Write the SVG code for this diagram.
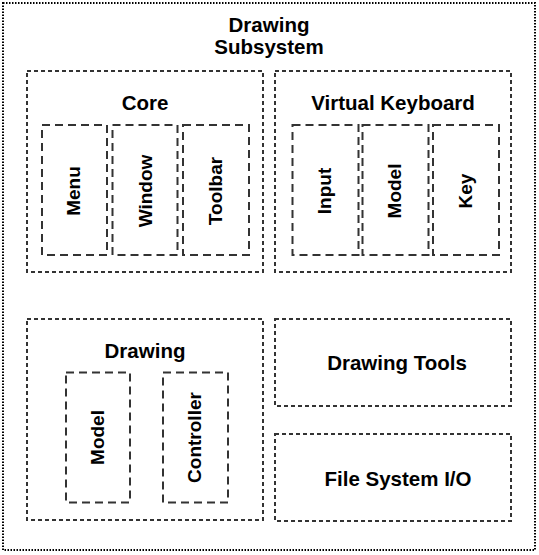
<svg xmlns="http://www.w3.org/2000/svg" width="539" height="555" viewBox="0 0 539 555">
<style>
.outer{fill:#fff;stroke:#000;stroke-width:2;stroke-dasharray:1.5 1.5}
.mid{fill:#fff;stroke:#333;stroke-width:2;stroke-dasharray:4 3}
.inner{fill:#fff;stroke:#333;stroke-width:2;stroke-dasharray:8 5}
text{font-family:"Liberation Sans",Arial,sans-serif;font-weight:bold;fill:#000;text-anchor:middle;dominant-baseline:central}
.t{font-size:20.5px}
.r{font-size:19px}
</style>
<rect width="539" height="555" fill="#fff"/>
<g id="subsystem">
<rect class="outer" x="3" y="3" width="532" height="547"/>
<text class="t" x="269" y="24">Drawing</text>
<text class="t" x="269" y="46">Subsystem</text>
</g>
<g id="core">
<rect class="mid" x="27" y="71" width="236" height="201"/>
<text class="t" x="145" y="102">Core</text>
</g>
<g id="menu"><rect class="inner" x="42" y="125" width="65" height="130"/><text class="r" transform="translate(73.5,191) rotate(-90)">Menu</text></g>
<g id="window"><rect class="inner" x="112.5" y="125" width="65" height="130"/><text class="r" transform="translate(145,191) rotate(-90)">Window</text></g>
<g id="toolbar"><rect class="inner" x="183" y="125" width="66" height="130"/><text class="r" transform="translate(215,191) rotate(-90)">Toolbar</text></g>
<g id="virtual-keyboard">
<rect class="mid" x="275" y="71" width="236" height="201"/>
<text class="t" x="393" y="102">Virtual Keyboard</text>
</g>
<g id="input"><rect class="inner" x="292.5" y="125" width="66" height="130"/><text class="r" transform="translate(324.5,191) rotate(-90)">Input</text></g>
<g id="vk-model"><rect class="inner" x="362.5" y="125" width="66" height="130"/><text class="r" transform="translate(394.5,191) rotate(-90)">Model</text></g>
<g id="key"><rect class="inner" x="433" y="125" width="66" height="130"/><text class="r" transform="translate(465,191) rotate(-90)">Key</text></g>
<g id="drawing">
<rect class="mid" x="27" y="319" width="236" height="201"/>
<text class="t" x="145" y="350">Drawing</text>
</g>
<g id="drawing-model"><rect class="inner" x="66" y="372.5" width="64" height="130"/><text class="r" transform="translate(97,437.5) rotate(-90)">Model</text></g>
<g id="controller"><rect class="inner" x="163" y="372.5" width="65" height="130"/><text class="r" transform="translate(194.5,437.5) rotate(-90)">Controller</text></g>
<g id="drawing-tools">
<rect class="mid" x="275" y="319" width="236" height="87"/>
<text class="t" x="397" y="362.5">Drawing Tools</text>
</g>
<g id="file-system">
<rect class="mid" x="275" y="434" width="236" height="87"/>
<text class="t" x="398" y="478">File System I/O</text>
</g>
<g id="connectors"/>
</svg>
